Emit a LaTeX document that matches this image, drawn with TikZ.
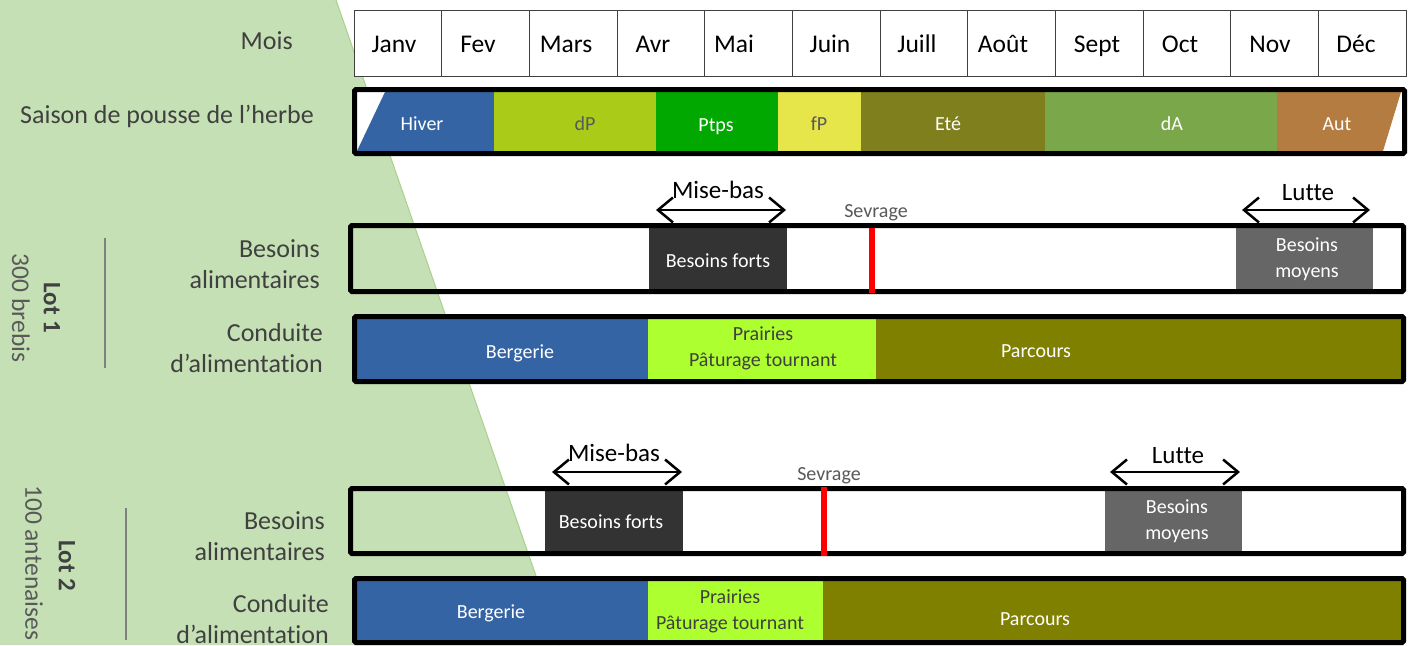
\documentclass[tikz,border=0pt]{standalone}
\usepackage{fontspec}
\setmainfont{Carlito}[Ligatures={NoCommon}]
\usetikzlibrary{arrows.meta}
\definecolor{greenbg}{HTML}{C5E0B4}
\definecolor{greenedge}{HTML}{A9D18E}
\definecolor{cHiver}{HTML}{3464A4}
\definecolor{cdP}{HTML}{AACC18}
\definecolor{cPtps}{HTML}{00A800}
\definecolor{cfP}{HTML}{E6E64A}
\definecolor{cEte}{HTML}{7F7F1E}
\definecolor{cdA}{HTML}{7AA74A}
\definecolor{cAut}{HTML}{B47C40}
\definecolor{cPrairie}{HTML}{ADFF2F}
\definecolor{cParcours}{HTML}{808000}
\definecolor{cForts}{HTML}{333333}
\definecolor{cMoyens}{HTML}{666666}
\definecolor{labgray}{HTML}{404040}
\definecolor{midgray}{HTML}{595959}
\definecolor{sepgray}{HTML}{808080}
\begin{document}
\begin{tikzpicture}[x=1pt,y=-1pt,
  lbl/.style={font=\fontsize{26}{31}\selectfont, text=labgray, align=right, inner sep=0pt},
  monthtxt/.style={font=\fontsize{25.5}{28}\selectfont, text=black, inner sep=0pt, anchor=base},
  intxt/.style={font=\fontsize{20}{26}\selectfont, text=white, align=center, inner sep=0pt},
  graytxt/.style={font=\fontsize{20}{26}\selectfont, text=midgray, align=center, inner sep=0pt},
  bigtxt/.style={font=\fontsize{25}{30}\selectfont, text=black, inner sep=0pt},
  barframe/.style={draw=black, line width=5pt, rounded corners=1.5pt},
  gridline/.style={draw=labgray, line width=1pt},
  dblarrow/.style={{Straight Barb[length=15pt,width=25pt]}-{Straight Barb[length=15pt,width=25pt]}, line width=2.5pt, black},
  redline/.style={draw=red, line width=6pt},
  sepline/.style={draw=sepgray, line width=1.5pt}
]
\useasboundingbox (0,0) rectangle (1412,645);
\fill[white] (0,0) rectangle (1412,645);
% green background
\fill[greenbg] (0,0) -- (336,0) -- (560,645) -- (0,645) -- cycle;
\draw[greenedge, line width=1pt] (336,0) -- (560,645);

% ---------- months ----------
\fill[white] (354,10) rectangle (1406,76);
\draw[gridline] (354,10) rectangle (1406,76);
\foreach \k in {1,...,11} { \draw[gridline] ({354+87.667*\k},10) -- ({354+87.667*\k},76); }
\foreach \m/\x [count=\i] in {Janv/394,Fev/478,Mars/566,Avr/653,Mai/734,Juin/830,Juill/917,Août/1003,Sept/1097,Oct/1180,Nov/1270,Déc/1356}
  { \node[monthtxt] (month\i) at (\x,52) {\m}; }
\node[lbl, anchor=base east] (lmois) at (293,49) {Mois};

% ---------- saison ----------
\node[lbl, anchor=base east] (lsaison) at (314,123) {Saison de pousse de l’herbe};
\fill[white] (357,92) rectangle (1402,151);
\fill[cHiver] (385,92) -- (494,92) -- (494,151) -- (357,151) -- cycle;
\fill[cdP] (494,92) rectangle (656,151);
\fill[cPtps] (656,92) rectangle (778,151);
\fill[cfP] (778,92) rectangle (861,151);
\fill[cEte] (861,92) rectangle (1045,151);
\fill[cdA] (1045,92) rectangle (1277,151);
\fill[cAut] (1277,92) -- (1401,92) -- (1383,151) -- (1277,151) -- cycle;
\draw[barframe] (354.5,89.5) rectangle (1404.5,153.5);
\node[intxt] (tHiver) at (422,124) {Hiver};
\node[graytxt] (tdP) at (585,124) {dP};
\node[intxt] (tPtps) at (716,126.5) {Ptps};
\node[graytxt] (tfP) at (819,124) {fP};
\node[intxt] (tEte) at (948,124) {Eté};
\node[intxt] (tdA) at (1172,124) {dA};
\node[intxt] (tAut) at (1337,124) {Aut};

% ---------- Lot 1 ----------
\node[font=\fontsize{25}{30}\selectfont\bfseries, text=labgray, rotate=-90, inner sep=0pt] (lot1) at (52,308) {Lot 1};
\node[font=\fontsize{25.5}{30}\selectfont, text=midgray, rotate=-90, inner sep=0pt] (lot1n) at (21,308) {300 brebis};
\coordinate (s1a) at (105,238); \coordinate (s1b) at (105,368);
\draw[sepline] (s1a) -- (s1b);

\node[lbl, anchor=east] (lbes1) at (320,264) {Besoins\\alimentaires};
\node[lbl, anchor=east] (lcon1) at (323,348) {Conduite\\d’alimentation};

\fill[cForts] (649,228) rectangle (787,289);
\fill[cMoyens] (1236,228) rectangle (1373,289);
\draw[barframe] (350.5,225.5) rectangle (1403.5,291.5);
\coordinate (r1a) at (872,228); \coordinate (r1b) at (872,293);
\draw[redline] (r1a) -- (r1b);
\node[intxt] (forts1) at (718,261) {Besoins forts};
\node[intxt] (moy1) at (1307,259) {Besoins\\moyens};

\node[bigtxt] (mb1) at (718,190) {Mise-bas};
\coordinate (mb1a) at (656,210); \coordinate (mb1b) at (786,210);
\draw[dblarrow] (mb1a) -- (mb1b);
\node[bigtxt] (lu1) at (1308,193) {Lutte};
\coordinate (lu1a) at (1242,210); \coordinate (lu1b) at (1370,210);
\draw[dblarrow] (lu1a) -- (lu1b);
\node[graytxt] (sev1) at (876,213) {Sevrage};

\fill[cHiver] (357,319) rectangle (648,379);
\fill[cPrairie] (648,319) rectangle (876,379);
\fill[cParcours] (876,319) rectangle (1401,379);
\draw[barframe] (354.5,316.5) rectangle (1403.5,381.5);
\node[intxt] (berg1) at (520,353) {Bergerie};
\node[graytxt, text=labgray] (prai1) at (763,348) {Prairies\\Pâturage tournant};
\node[intxt] (parc1) at (1036,351) {Parcours};

% ---------- Lot 2 ----------
\node[font=\fontsize{25}{30}\selectfont\bfseries, text=labgray, rotate=-90, inner sep=0pt] (lot2) at (67,566) {Lot 2};
\node[font=\fontsize{25.5}{30}\selectfont, text=midgray, rotate=-90, inner sep=0pt, anchor=west] (lot2n) at (34,485) {100 antenaises};
\coordinate (s2a) at (126,508); \coordinate (s2b) at (126,640);
\draw[sepline] (s2a) -- (s2b);

\node[lbl, anchor=east] (lbes2) at (325,536) {Besoins\\alimentaires};
\node[lbl, anchor=east] (lcon2) at (329,619) {Conduite\\d’alimentation};

\fill[cForts] (545,491) rectangle (683,551);
\fill[cMoyens] (1105,491) rectangle (1242,551);
\draw[barframe] (350.5,488.5) rectangle (1403.5,553.5);
\coordinate (r2a) at (824,487); \coordinate (r2b) at (824,556);
\draw[redline] (r2a) -- (r2b);
\node[intxt] (forts2) at (611,522) {Besoins forts};
\node[intxt] (moy2) at (1177,521) {Besoins\\moyens};

\node[bigtxt] (mb2) at (614,453) {Mise-bas};
\coordinate (mb2a) at (552,472); \coordinate (mb2b) at (682,472);
\draw[dblarrow] (mb2a) -- (mb2b);
\node[bigtxt] (lu2) at (1178,456) {Lutte};
\coordinate (lu2a) at (1110,472); \coordinate (lu2b) at (1240,472);
\draw[dblarrow] (lu2a) -- (lu2b);
\node[graytxt] (sev2) at (829,476) {Sevrage};

\fill[cHiver] (357,581) rectangle (648,640);
\fill[cPrairie] (648,581) rectangle (823,640);
\fill[cParcours] (823,581) rectangle (1401,640);
\draw[barframe] (354.5,578.5) rectangle (1403.5,642.5);
\node[intxt] (berg2) at (491,613) {Bergerie};
\node[graytxt, text=labgray] (prai2) at (730,611) {Prairies\\Pâturage tournant};
\node[intxt] (parc2) at (1035,619) {Parcours};
\end{tikzpicture}
\end{document}
